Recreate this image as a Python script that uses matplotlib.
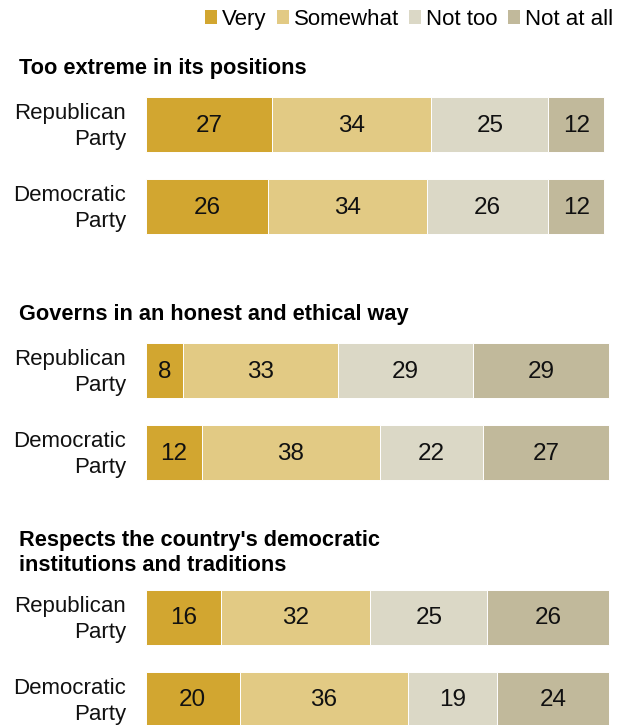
import matplotlib.pyplot as plt
from matplotlib.patches import Patch

# Data (percent)
categories = ["Very", "Somewhat", "Not too", "Not at all"]
questions = ["Too extreme in its positions",
             "Governs in an honest and ethical way",
             "Respects the country's democratic\ninstitutions and traditions"]
parties = ["Republican\nParty", "Democratic\nParty"]
very = [27, 26, 8, 12, 16, 20]
somewhat = [34, 34, 33, 38, 32, 36]
not_too = [25, 26, 29, 22, 25, 19]
not_at_all = [12, 12, 29, 27, 26, 24]

colors = ['#D2A630', '#E2CA84', '#DBD8C6', '#C1B99B']

W, H = 623, 725
fig = plt.figure(figsize=(W / 100, H / 100), dpi=100)
plt.rcParams['font.family'] = ['Liberation Sans', 'DejaVu Sans']

# axes spans the bar area; y is in pixel rows (top = 0)
x0, px_per_unit = 146, 4.677
ax = fig.add_axes([x0 / W, 0, 100 * px_per_unit / W, 1])
ax.set_xlim(0, 100)
ax.set_ylim(H, 0)
ax.axis('off')

group_top = [97, 343, 590]
bar_h = 55
row_gap = 82
title_base = [74, 320, 571]

series = [very, somewhat, not_too, not_at_all]
handles = []
for g, q in enumerate(questions):
    fig.text(19 / W, 1 - title_base[g] / H, q, fontsize=15.7, fontweight='bold',
             ha='left', va='baseline', linespacing=1.25)
    for r, party in enumerate(parties):
        i = g * 2 + r
        yc = group_top[g] + r * row_gap + bar_h / 2
        left = 0
        for k, s in enumerate(series):
            ax.barh(yc, s[i], left=left, height=bar_h, color=colors[k],
                    edgecolor='white', linewidth=0.7)
            if i == 0:
                handles.append(Patch(facecolor=colors[k], label=categories[k]))
            ax.text(left + s[i] / 2, yc + 1, str(s[i]), ha='center', va='center',
                    fontsize=17.5, color='#111111')
            left += s[i]
        fig.text(126 / W, 1 - (yc + 2) / H, party, ha='right', va='center',
                 fontsize=16, linespacing=1.3, color='#111111')

fig.legend(handles=handles, loc='upper right', bbox_to_anchor=(613 / W, 1 - 9 / H),
           ncol=4, frameon=False, fontsize=16, handlelength=0.55, handleheight=0.6,
           handletextpad=0.22, columnspacing=0.45, borderaxespad=0, borderpad=0)

fig.savefig('out.png', dpi=100)
